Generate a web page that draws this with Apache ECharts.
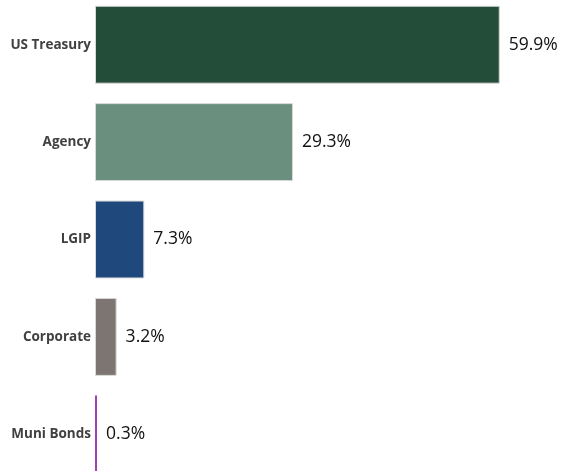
<!DOCTYPE html>
<html>
<head>
<meta charset="utf-8">
<script src="https://cdn.jsdelivr.net/npm/echarts@6/dist/echarts.min.js"></script>
<style>
  html, body { margin: 0; padding: 0; background: #fff; }
  #chart { width: 564px; height: 471px; }
</style>
</head>
<body>
<div id="chart"></div>
<script>
const categories = ['US Treasury', 'Agency', 'LGIP', 'Corporate', 'Muni Bonds'];
const values = [59.9, 29.3, 7.3, 3.2, 0.3];
const colors = ['#234d38', '#6a8f7e', '#1f497d', '#7d7572', '#a23fb5'];

const chart = echarts.init(document.getElementById('chart'));

const option = {
  animation: false,
  grid: {
    left: 95,
    width: 473,
    top: -4,
    height: 487,
    outerBoundsMode: 'none',
    containLabel: false
  },
  xAxis: {
    type: 'value',
    min: 0,
    max: 70,
    show: false
  },
  yAxis: {
    type: 'category',
    inverse: true,
    data: categories,
    axisLine: { show: false },
    axisTick: { show: false },
    axisLabel: {
      margin: 4,
      fontFamily: 'Open Sans',
      fontWeight: 'bold',
      fontSize: 13.5,
      color: '#404040'
    }
  },
  series: [{
    type: 'bar',
    barCategoryGap: '20%',
    data: values.map((v, i) => ({
      value: v,
      itemStyle: {
        color: colors[i],
        borderColor: i === 4 ? colors[i] : '#d8d8d8',
        borderWidth: 1
      }
    })),
    label: {
      show: true,
      position: 'right',
      distance: 9,
      fontFamily: 'Open Sans',
      fontSize: 17.5,
      color: '#111',
      formatter: p => p.value.toFixed(1) + '%'
    }
  }]
};

chart.setOption(option);
</script>
</body>
</html>
